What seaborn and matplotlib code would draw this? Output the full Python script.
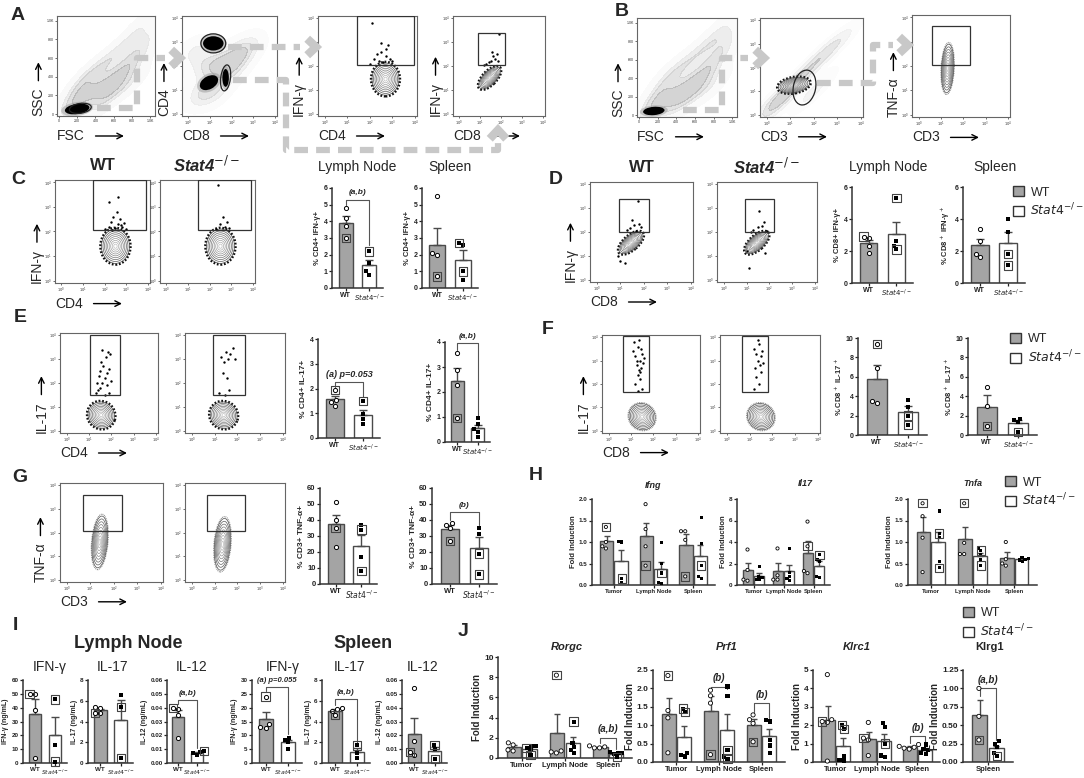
import warnings
warnings.filterwarnings('ignore')
import numpy as np
import pandas as pd
import matplotlib
matplotlib.use('Agg')
import matplotlib.pyplot as plt
import seaborn as sns
from matplotlib.patches import Ellipse, Rectangle, Patch, FancyArrowPatch
from matplotlib.lines import Line2D

# ---------------- DATA: bar charts (individual animals) ----------------
c_ln_wt = [4.8, 4.2, 3.7, 3.0]; c_ln_wt_box = [3]
c_ln_ko = [2.2, 1.5, 1.0, 0.8]; c_ln_ko_box = [0]
c_sp_wt = [5.5, 2.1, 2.0, 0.7]; c_sp_wt_box = [3]
c_sp_ko = [2.7, 2.6, 1.0, 0.5]; c_sp_ko_box = [0, 2]

d_ln_wt = [2.9, 2.8, 2.3, 1.9]; d_ln_wt_box = [0]
d_ln_ko = [5.3, 2.6, 2.3, 2.1]; d_ln_ko_box = [0, 3]
d_sp_wt = [3.4, 2.6, 1.8, 1.6]; d_sp_wt_box = []
d_sp_ko = [4.0, 3.2, 1.8, 1.1]; d_sp_ko_box = [2, 3]

e_ln_wt = [1.95, 1.55, 1.45, 1.3]; e_ln_wt_box = [0]
e_ln_ko = [1.5, 0.95, 0.75, 0.55]; e_ln_ko_box = [0]
e_sp_wt = [3.55, 2.9, 2.3, 0.95]; e_sp_wt_box = [3]
e_sp_ko = [0.95, 0.7, 0.5, 0.4, 0.2]; e_sp_ko_box = []

f_ln_wt = [9.4, 6.9, 3.5, 3.3]; f_ln_wt_box = [0]
f_ln_ko = [3.6, 2.9, 2.0, 1.0]; f_ln_ko_box = [2, 3]
f_sp_wt = [4.9, 3.0, 0.9]; f_sp_wt_box = [2]
f_sp_ko = [1.7, 1.5, 1.3, 0.3]; f_sp_ko_box = [3]

g_ln_wt = [51, 40, 35, 23]; g_ln_wt_box = [2]
g_ln_ko = [37, 34, 17, 8]; g_ln_ko_box = [1, 3]
g_sp_wt = [38, 37, 35, 27]; g_sp_wt_box = [3]
g_sp_ko = [35, 31, 19, 6]; g_sp_ko_box = [2, 3]

tissues = ['Tumor', 'Lymph Node', 'Spleen']
ifng_wt = [[1.35, 1.0, 0.9, 0.85], [1.88, 1.3, 0.9, 0.45], [1.25, 1.25, 1.05, 0.2]]
ifng_wt_box = [[0], [3], [3]]
ifng_ko = [[1.02, 1.0, 0.15, 0.05], [0.98, 0.5, 0.28, 0.05, 0.03], [1.57, 0.97, 0.45, 0.2, 0.15]]
ifng_ko_box = [[2], [2], [2]]
il17_wt = [[3.3, 1.4, 0.5, 0.4], [3.4, 0.9, 0.5, 0.5], [5.9, 3.6, 1.3, 1.1]]
il17_wt_box = [[], [], [1]]
il17_ko = [[1.75, 0.8, 0.7, 0.5, 0.5], [3.4, 1.2, 0.8, 0.6, 0.4], [2.8, 2.4, 2.2, 0.8, 0.7]]
il17_ko_box = [[], [], [0]]
tnfa_wt = [[1.9, 1.6, 1.1, 0.3], [1.9, 0.98, 0.72, 0.72], [1.0, 0.6, 0.5, 0.45]]
tnfa_wt_box = [[0], [0], []]
tnfa_ko = [[1.72, 1.2, 1.1, 0.55, 0.4], [0.85, 0.8, 0.7, 0.6, 0.45], [0.64, 0.62, 0.6, 0.58, 0.55]]
tnfa_ko_box = [[1, 4], [1, 4], []]

i_ln_ifn_wt = [50, 50, 38, 3.5]; i_ln_ifn_wt_box = [0]
i_ln_ifn_ko = [46, 13, 1]; i_ln_ifn_ko_box = [0, 2]
i_ln_il17_wt = [5.4, 5.3, 4.8, 4.8]; i_ln_il17_wt_box = [2]
i_ln_il17_ko = [6.6, 5.4, 0.5]; i_ln_il17_ko_box = [1, 2]
i_ln_il12_wt = [0.040, 0.039, 0.035, 0.018]; i_ln_il12_wt_box = [0]
i_ln_il12_ko = [0.0085, 0.008, 0.007, 0.006]; i_ln_il12_ko_box = [0]
i_sp_ifn_wt = [24, 14, 13, 12.5]; i_sp_ifn_wt_box = [0]
i_sp_ifn_ko = [9.2, 8.4, 7.5, 5.0]; i_sp_ifn_ko_box = []
i_sp_il17_wt = [5.3, 5.2, 5.0, 4.6]; i_sp_il17_wt_box = [3]
i_sp_il17_ko = [1.7, 1.0, 0.5]; i_sp_il17_ko_box = [0]
i_sp_il12_wt = [0.054, 0.016, 0.008, 0.006]; i_sp_il12_wt_box = [2]
i_sp_il12_ko = [0.013, 0.010, 0.003]; i_sp_il12_ko_box = [0, 2]

rorgc_wt = [[1.5, 1.3, 0.8, 0.7], [8.2, 0.7, 0.6, 0.5], [1.2, 1.1, 1.0, 1.0]]
rorgc_wt_box = [[], [0], []]
rorgc_ko = [[1.2, 1.2, 1.0, 0.8, 0.3], [3.6, 1.5, 1.1, 0.8, 0.5], [0.6, 0.5, 0.5, 0.4, 0.1]]
rorgc_ko_box = [[2, 4], [0], [4]]
prf1_wt = [[2.35, 1.4, 1.2, 0.25], [1.95, 1.8, 1.6, 0.2], [1.28, 1.15, 1.05, 0.55]]
prf1_wt_box = [[0], [3], [3]]
prf1_ko = [[1.45, 1.35, 0.25, 0.2, 0.15], [2.05, 1.8, 0.32, 0.15, 0.08], [1.15, 1.1, 0.6, 0.45, 0.25]]
prf1_ko_box = [[0, 1], [2, 4], []]
klrc1_wt = [[4.75, 2.3, 2.2, 2.15, 0.05], [2.15, 1.3, 1.2, 0.35], [0.95, 0.85, 0.8, 0.75, 0.7]]
klrc1_wt_box = [[2], [1], []]
klrc1_ko = [[2.0, 1.8, 0.3, 0.1, 0.05], [2.1, 1.9, 1.0, 0.35, 0.25], [0.95, 0.7, 0.65, 0.5, 0.45]]
klrc1_ko_box = [[0, 1], [2], []]
klrg1_wt = [[1.0, 0.62, 0.3]]; klrg1_wt_box = [[2]]
klrg1_ko = [[0.28, 0.25, 0.2, 0.12, 0.08]]; klrg1_ko_box = [[4]]

# ---------------- DATA: flow cytometry sketches (log decades) ----------------
a1_blobs = [(200, 55, 270, 110, 8)]
a1_bg_x = [120, 250, 400, 550, 700, 850, 950, 300, 500, 700, 900, 200, 600, 800, 450]
a1_bg_y = [80, 150, 250, 350, 450, 600, 800, 400, 550, 700, 950, 250, 250, 350, 120]
a1_ells = [(235, 62, 240, 105, 8)]
a2_blobs = [(1.15, 2.95, 0.95, 0.6, 0), (0.95, 1.3, 0.9, 0.55, 25), (1.72, 1.5, 0.3, 0.75, 0)]
a2_bg_x = [0.3, 0.8, 1.5, 2.2, 2.8, 0.5, 1.2, 2.0]
a2_bg_y = [2.6, 2.0, 2.1, 2.4, 2.8, 0.8, 0.9, 1.8]
a2_ells = [(1.15, 2.95, 1.15, 0.8, 0), (1.72, 1.5, 0.45, 1.1, -8)]
a3_pops = [(2.7, 1.45, 1.2, 1.35, 0, 'k')]
a3_rects = [(1.45, 2.05, 3.95, 4.1)]
a3_dx = [2.0, 2.2, 2.4, 2.5, 2.7, 2.8, 2.9, 2.3, 2.6, 3.0, 2.1, 2.7, 2.5]
a3_dy = [2.1, 2.3, 2.2, 2.6, 2.4, 2.9, 2.3, 2.5, 2.15, 2.2, 3.8, 2.7, 2.95]
a4_pops = [(1.45, 1.5, 1.25, 0.6, 40, 'k')]
a4_rects = [(0.9, 2.05, 2.2, 3.4)]
a4_dx = [1.3, 1.5, 1.6, 1.7, 1.8, 1.4, 1.9, 1.55, 1.85, 1.2]
a4_dy = [2.1, 2.2, 2.4, 2.3, 2.5, 2.15, 3.35, 2.6, 2.2, 2.05]
b1_blobs = [(160, 45, 230, 90, 5)]
b1_bg_x = [100, 250, 400, 550, 700, 850, 950, 300, 500, 700, 900, 200, 600, 800, 400]
b1_bg_y = [60, 130, 230, 330, 450, 620, 820, 420, 560, 720, 950, 220, 240, 330, 100]
b2_pops = [(1.15, 1.25, 1.35, 0.65, 10, 'k')]
b2_ells = [(1.6, 1.15, 0.95, 1.5, -12)]
b2_bg_x = [0.3, 0.8, 1.5, 2.3, 3.0, 0.5, 2.0]
b2_bg_y = [0.6, 0.9, 1.6, 2.5, 3.0, 0.4, 1.0]
b3_pops = [(1.3, 1.9, 0.55, 2.0, -3, 'g')]
b3_rects = [(0.6, 2.05, 2.3, 3.65)]
c_pops = [(2.5, 1.4, 1.3, 1.4, 0, 'k')]
c_rects = [(1.45, 2.05, 3.9, 4.1)]
c_wt_dx = [2.0, 2.2, 2.3, 2.5, 2.6, 2.7, 2.8, 2.9, 3.0, 2.4, 2.55, 2.75, 2.2, 2.6, 2.35]
c_wt_dy = [2.1, 2.2, 2.4, 2.15, 2.3, 2.5, 2.2, 2.35, 2.1, 2.6, 2.8, 2.25, 3.2, 3.4, 2.05]
c_ko_dx = [2.3, 2.5, 2.7, 2.9, 2.6, 2.4, 2.8]
c_ko_dy = [2.1, 2.3, 2.2, 2.15, 2.6, 3.9, 2.4]
d_pops = [(1.45, 1.55, 1.25, 0.6, 40, 'k')]
d_rects = [(0.95, 2.0, 2.2, 3.4)]
d_wt_dx = [1.75, 1.5, 1.6, 1.9, 1.4, 1.65, 1.3, 1.8, 0.9, 1.0, 1.2]
d_wt_dy = [3.3, 2.5, 2.3, 2.2, 2.15, 2.05, 2.1, 2.35, 1.0, 0.8, 0.7]
d_ko_dx = [1.55, 1.3, 1.5, 1.7, 1.9, 1.2, 1.75, 1.0, 1.8, 1.1]
d_ko_dy = [2.9, 2.1, 2.2, 2.25, 2.05, 2.0, 2.4, 1.2, 1.1, 0.5]
e_wt_pops = [(1.55, 0.65, 1.1, 1.2, 70, 'k')]
e_wt_rects = [(1.05, 1.5, 2.4, 4.0)]
e_wt_dx = [1.3, 1.5, 1.6, 1.7, 1.8, 1.9, 1.4, 1.55, 1.75, 1.85, 1.95, 1.45, 1.65, 1.7, 1.8, 1.6, 1.5, 1.9, 2.0, 1.35]
e_wt_dy = [1.6, 1.8, 2.0, 2.2, 2.4, 2.6, 1.7, 2.9, 3.1, 3.3, 3.2, 2.3, 2.7, 1.5, 1.9, 3.4, 2.5, 1.6, 2.1, 2.0]
e_ko_pops = [(1.4, 0.65, 1.1, 1.2, 70, 'k')]
e_ko_rects = [(0.95, 1.5, 2.35, 4.0)]
e_ko_dx = [1.3, 1.5, 1.7, 1.4, 1.8, 1.6, 1.35, 1.9, 1.55, 1.65, 1.2, 1.45]
e_ko_dy = [3.1, 3.3, 3.2, 2.9, 3.45, 3.0, 2.4, 3.0, 2.2, 1.7, 1.6, 1.5]
f_pops = [(1.5, 0.6, 1.1, 1.2, 60, 'g')]
f_rects = [(0.65, 1.65, 1.8, 4.05)]
f_wt_dx = [1.1, 1.2, 1.3, 1.4, 1.5, 1.25, 1.35, 1.45, 1.55, 1.6, 1.3, 1.4, 1.2, 1.5, 1.15, 1.35, 1.45, 1.3, 1.4, 1.25]
f_wt_dy = [3.4, 3.2, 3.6, 3.0, 3.3, 2.8, 2.6, 3.5, 2.9, 3.1, 2.4, 2.2, 2.0, 1.8, 3.8, 3.9, 2.7, 1.7, 2.5, 3.0]
f_ko_dx = [1.2, 1.3, 1.4, 1.5, 1.35, 1.25, 1.45, 1.55, 1.3, 1.4, 1.2, 1.5, 1.35, 1.6]
f_ko_dy = [3.5, 3.3, 3.7, 3.2, 3.0, 2.7, 2.8, 3.4, 2.3, 2.0, 1.8, 2.5, 3.9, 2.9]
g_wt_pops = [(1.4, 1.6, 0.65, 2.2, -5, 'g')]
g_ko_pops = [(1.35, 1.5, 0.7, 2.2, -5, 'g')]
g_rects = [(0.67, 2.05, 2.35, 3.6)]

# ---------------- STYLE ----------------
sns.set_theme(style='ticks')
plt.rcParams['font.family'] = ['Liberation Sans', 'DejaVu Sans']
plt.rcParams['mathtext.fontset'] = 'dejavusans'
GREY = '#a4a4a4'
EDGE = '#4a4a4a'
KO_LAB = r'$\mathit{Stat4}^{-/-}$'

W, H = 1084, 778
fig = plt.figure(figsize=(W / 100, H / 100), dpi=100)
pending = []
arrow_labels = []


def axpx(x0, y0, x1, y1):
    return fig.add_axes([x0 / W, 1 - y1 / H, (x1 - x0) / W, (y1 - y0) / H])


def ftxt(x, y, s, **kw):
    kw.setdefault('ha', 'center')
    kw.setdefault('va', 'center')
    fig.text(x / W, 1 - y / H, s, **kw)


def rings(ax, cx, cy, w, h, ang, style):
    outer = '#111111' if style == 'k' else '#8a8a8a'
    ax.add_patch(Ellipse((cx, cy), w * 1.07, h * 1.07, angle=ang, fill=False, ec=outer,
                         lw=1.8 if style == 'k' else 0.9, ls=(0, (0.7, 0.7)), zorder=3))
    for k, s in enumerate(np.linspace(1.0, 0.12, 9)):
        ax.add_patch(Ellipse((cx, cy), w * s, h * s, angle=ang, fill=False,
                             ec=str(0.3 + 0.45 * k / 8), lw=0.5, zorder=3))


def flow(box, xl=None, yl=None, linear=False, pops=(), blobs=(), dots=None,
         rects=(), ells=(), bg=None):
    ax = axpx(*box)
    if linear:
        lim = (-20, 1050)
        ticks = [0, 200, 400, 600, 800, 1000]
        labs = ['0', '200', '400', '600', '800', '1.0K']
        ylim = lim
    else:
        lim = (-0.3, 4.1)
        ylim = (-0.1, 4.1)
        ticks = [0, 1, 2, 3, 4]
        labs = [f'$10^{k}$' for k in ticks]
    if bg is not None:
        sns.kdeplot(x=bg[0], y=bg[1], fill=True, cmap='Greys', levels=5, thresh=0.08,
                    alpha=0.2, bw_adjust=0.9, ax=ax)
    for (cx, cy, w, h, a) in blobs:
        ax.add_patch(Ellipse((cx, cy), w * 1.3, h * 1.35, angle=a, fc='0.6', ec='none', alpha=0.5))
        ax.add_patch(Ellipse((cx, cy), w, h, angle=a, fc='black', ec='none'))
    for (cx, cy, w, h, a, st) in pops:
        rings(ax, cx, cy, w, h, a, st)
    if dots is not None:
        sns.scatterplot(x=dots[0], y=dots[1], s=3, color='black', linewidth=0, ax=ax, zorder=4)
    for (x0, y0, x1, y1) in rects:
        ax.add_patch(Rectangle((x0, y0), x1 - x0, y1 - y0, fill=False, ec='#333333', lw=0.9, zorder=5))
    for (cx, cy, w, h, a) in ells:
        ax.add_patch(Ellipse((cx, cy), w, h, angle=a, fill=False, ec='#222222', lw=0.9, zorder=5))
    ax.set_xlim(lim)
    ax.set_ylim(ylim)
    ax.set_xticks(ticks)
    ax.set_yticks(ticks)
    ax.set_xticklabels(labs, fontsize=2.6)
    ax.set_yticklabels(labs, fontsize=2.6)
    ax.tick_params(length=1.5, width=0.5, pad=0.6, colors='#333333')
    for sp in ax.spines.values():
        sp.set_linewidth(0.8)
        sp.set_color('#666666')
    ax.set_xlabel('')
    ax.set_ylabel('')
    if xl:
        t = ax.text(0.0, -0.2, xl, transform=ax.transAxes, ha='left', va='center', fontsize=10)
        arrow_labels.append((t, 'x'))
    if yl:
        t = ax.text(-0.19, 0.0, yl, transform=ax.transAxes, ha='center', va='bottom', fontsize=10,
                    rotation=90)
        arrow_labels.append((t, 'y'))
    return ax


def style_bar_axes(ax, ymax, step, fmt, ylabel, yfs, tfs):
    ax.set_ylim(0, ymax)
    yt = np.round(np.arange(0, ymax + step / 2, step), 6)
    ax.set_yticks(yt)
    ax.set_yticklabels([fmt.format(v) for v in yt], fontsize=tfs, fontweight='bold')
    ax.set_ylabel(ylabel, fontsize=yfs, fontweight='bold', labelpad=1.5)
    ax.set_xlabel('')
    sns.despine(ax=ax)
    for sp in ['left', 'bottom']:
        ax.spines[sp].set_linewidth(1.1)
        ax.spines[sp].set_color('#333333')
    ax.tick_params(length=2.2, width=0.9, pad=1, colors='#222222')


def bracket(ax, x0, x1, y, y0, y1, text, fs=6):
    ax.plot([x0, x0, x1, x1], [y0, y, y, y1], color='#555555', lw=0.8, clip_on=False)
    ax.text((x0 + x1) / 2, y + ax.get_ylim()[1] * 0.035, text, ha='center', va='bottom',
            fontsize=fs, fontstyle='italic', fontweight='bold', clip_on=False)


def pair(box, wt, ko, wtb, kob, ymax, step, ylabel, fmt='{:g}', sig=None,
         yfs=5.5, tfs=5, sigfs=6):
    ax = axpx(*box)
    df = pd.DataFrame({'g': ['WT'] * len(wt) + ['KO'] * len(ko), 'v': list(wt) + list(ko)})
    sns.barplot(data=df, x='g', y='v', hue='g', order=['WT', 'KO'], hue_order=['WT', 'KO'],
                palette={'WT': GREY, 'KO': 'white'}, errorbar=None, edgecolor=EDGE,
                linewidth=1.0, width=0.62, legend=False, ax=ax)
    for i, vals in enumerate([wt, ko]):
        m = np.mean(vals)
        s = np.std(vals, ddof=1) / np.sqrt(len(vals))
        ax.errorbar([i], [m], yerr=[[0], [s]], fmt='none', ecolor=EDGE, elinewidth=1,
                    capsize=3, capthick=1)
    for name, bx, mk, fc, lw in [('WT', wtb, 'o', 'white', 0.7), ('KO', kob, 's', 'black', 0)]:
        n0 = len(ax.collections)
        sns.swarmplot(data=df[df.g == name], x='g', y='v', order=['WT', 'KO'], marker=mk,
                      color=fc, edgecolor='black', linewidth=lw, size=3, ax=ax)
        for col in ax.collections[n0:]:
            if len(col.get_offsets()) == 0:
                continue
            col.set_clip_on(False)
            pending.append((ax, col, bx))
    ax.set_xlim(-0.6, 1.6)
    style_bar_axes(ax, ymax, step, fmt, ylabel, yfs, tfs)
    ax.set_xticks([0, 1])
    ax.set_xticklabels(['WT', KO_LAB], fontsize=tfs)
    ax.get_xticklabels()[0].set_fontweight('bold')
    if sig:
        t, y, y0, y1 = sig
        bracket(ax, 0, 1, y, y0, y1, t, sigfs)
    return ax


def group(box, cats, wts, kos, wtbs, kobs, ymax, step, ylabel, fmt='{:g}', sigs=(),
          yfs=5.5, tfs=5, xfs=5, size=2.6, sigfs=6):
    ax = axpx(*box)
    rows = []
    for c, vals in zip(cats, wts):
        rows += [(c, 'WT', v) for v in vals]
    for c, vals in zip(cats, kos):
        rows += [(c, 'KO', v) for v in vals]
    df = pd.DataFrame(rows, columns=['t', 'g', 'v'])
    sns.barplot(data=df, x='t', y='v', hue='g', order=cats, hue_order=['WT', 'KO'],
                palette={'WT': GREY, 'KO': 'white'}, errorbar=None, edgecolor=EDGE,
                linewidth=1.0, width=0.72, gap=0.08, legend=False, ax=ax)
    patches = sorted([p for p in ax.patches if p.get_width() > 0], key=lambda p: p.get_x())
    centers = [p.get_x() + p.get_width() / 2 for p in patches]
    for j in range(len(cats)):
        for k, lists in enumerate([wts, kos]):
            vals = lists[j]
            m = np.mean(vals)
            s = np.std(vals, ddof=1) / np.sqrt(len(vals))
            ax.errorbar([centers[2 * j + k]], [m], yerr=[[0], [s]], fmt='none', ecolor=EDGE,
                        elinewidth=1, capsize=2.5, capthick=1)
    for name, bxs, mk, lw in [('WT', wtbs, 'o', 0.6), ('KO', kobs, 's', 0)]:
        n0 = len(ax.collections)
        sns.swarmplot(data=df[df.g == name], x='t', y='v', hue='g', order=cats,
                      hue_order=['WT', 'KO'], dodge=True,
                      palette={'WT': 'white', 'KO': 'black'}, marker=mk,
                      edgecolor='black', linewidth=lw, size=size, legend=False, ax=ax)
        for col in ax.collections[n0:]:
            off = col.get_offsets()
            if len(off) == 0:
                continue
            col.set_clip_on(False)
            j = int(np.clip(np.round(np.mean(off[:, 0])), 0, len(cats) - 1))
            pending.append((ax, col, bxs[j]))
    ax.set_xlim(-0.55, len(cats) - 0.45)
    style_bar_axes(ax, ymax, step, fmt, ylabel, yfs, tfs)
    ax.set_xticks(range(len(cats)))
    ax.set_xticklabels(cats, fontsize=xfs, fontweight='bold')
    for (j, t, y, y0, y1) in sigs:
        bracket(ax, centers[2 * j], centers[2 * j + 1], y, y0, y1, t, sigfs)
    return ax


def legend_at(x, y, fs=9):
    h = [Patch(facecolor=GREY, edgecolor='#333333', lw=1),
         Patch(facecolor='white', edgecolor='#333333', lw=1)]
    fig.legend(h, ['WT', KO_LAB], loc='upper left', bbox_to_anchor=(x / W, 1 - y / H),
               frameon=False, fontsize=fs, handlelength=0.9, handleheight=0.9,
               handletextpad=0.5, labelspacing=0.25, borderaxespad=0, borderpad=0)


def dpath(pts, lw=4.5):
    xs = [p[0] / W for p in pts]
    ys = [1 - p[1] / H for p in pts]
    fig.add_artist(Line2D(xs, ys, color='#c8c8c8', lw=lw, dashes=(2.2, 1.3),
                          dash_capstyle='butt', transform=fig.transFigure, zorder=10))


def chevron(tip, d='r', s=11):
    x, y = tip
    if d == 'r':
        pts = [(x - s * 0.8, y - s * 0.75), (x, y), (x - s * 0.8, y + s * 0.75)]
    else:
        pts = [(x - s * 0.75, y + s * 0.8), (x, y), (x + s * 0.75, y + s * 0.8)]
    fig.add_artist(Line2D([p[0] / W for p in pts], [1 - p[1] / H for p in pts],
                          color='#c8c8c8', lw=6, solid_joinstyle='miter',
                          solid_capstyle='butt', transform=fig.transFigure, zorder=10))


# ---------------- Row A / B : gating ----------------
flow((57, 16, 155, 116), 'FSC', 'SSC', linear=True, blobs=a1_blobs, bg=(a1_bg_x, a1_bg_y), ells=a1_ells)
flow((182, 16, 277, 116), 'CD8', 'CD4', blobs=a2_blobs, bg=(a2_bg_x, a2_bg_y), ells=a2_ells)
flow((318, 16, 417, 116), 'CD4', 'IFN-γ', pops=a3_pops, rects=a3_rects, dots=(a3_dx, a3_dy))
flow((453, 16, 545, 116), 'CD8', 'IFN-γ', pops=a4_pops, rects=a4_rects, dots=(a4_dx, a4_dy))
flow((637, 18, 737, 117), 'FSC', 'SSC', linear=True, blobs=b1_blobs, bg=(b1_bg_x, b1_bg_y))
flow((760, 18, 863, 117), 'CD3', None, pops=b2_pops, ells=b2_ells, bg=(b2_bg_x, b2_bg_y))
flow((912, 15, 1010, 117), 'CD3', 'TNF-α', pops=b3_pops, rects=b3_rects)

dpath([(97, 108), (137, 108), (137, 58), (165, 58)]); chevron((180, 58))
dpath([(228, 47), (300, 47)]); chevron((316, 47))
dpath([(233, 80), (286, 80), (286, 150), (498, 150), (498, 140)]); chevron((498, 130), 'u')
dpath([(683, 110), (722, 110), (722, 58), (748, 58)]); chevron((764, 58))
dpath([(817, 83), (873, 83), (873, 45), (893, 45)]); chevron((908, 45))

# ---------------- Row C / D ----------------
flow((55, 180, 150, 283), 'CD4', 'IFN-γ', pops=c_pops, rects=c_rects, dots=(c_wt_dx, c_wt_dy))
flow((160, 180, 255, 283), pops=c_pops, rects=c_rects, dots=(c_ko_dx, c_ko_dy))
pair((332, 188, 383, 288), c_ln_wt, c_ln_ko, c_ln_wt_box, c_ln_ko_box, 6, 1, '% CD4+ IFN-γ+',
     sig=('(a,b)', 5.3, 5.0, 2.6))
pair((422, 188, 478, 288), c_sp_wt, c_sp_ko, c_sp_wt_box, c_sp_ko_box, 6, 1, '% CD4+ IFN-γ+')
flow((590, 182, 693, 282), 'CD8', 'IFN-γ', pops=d_pops, rects=d_rects, dots=(d_wt_dx, d_wt_dy))
flow((717, 182, 817, 282), pops=d_pops, rects=d_rects, dots=(d_ko_dx, d_ko_dy))
pair((852, 187, 913, 283), d_ln_wt, d_ln_ko, d_ln_wt_box, d_ln_ko_box, 6, 2, '% CD8+ IFN-γ+')
pair((963, 187, 1025, 283), d_sp_wt, d_sp_ko, d_sp_wt_box, d_sp_ko_box, 6, 2, '% CD8$^+$ IFN-γ$^+$')
legend_at(1013, 186)

# ---------------- Row E / F ----------------
flow((60, 333, 158, 433), 'CD4', 'IL-17', pops=e_wt_pops, rects=e_wt_rects, dots=(e_wt_dx, e_wt_dy))
flow((185, 333, 285, 433), pops=e_ko_pops, rects=e_ko_rects, dots=(e_ko_dx, e_ko_dy))
pair((318, 339, 380, 438), e_ln_wt, e_ln_ko, e_ln_wt_box, e_ln_ko_box, 4, 1, '% CD4+ IL-17+',
     sig=('(a) p=0.053', 2.25, 2.05, 1.65), yfs=6, sigfs=6.5)
pair((445, 342, 490, 442), e_sp_wt, e_sp_ko, e_sp_wt_box, e_sp_ko_box, 4, 1, '% CD4+ IL-17+',
     sig=('(a,b)', 3.95, 3.7, 1.05), yfs=6)
flow((602, 335, 700, 433), 'CD8', 'IL-17', pops=f_pops, rects=f_rects, dots=(f_wt_dx, f_wt_dy))
flow((720, 335, 820, 433), pops=f_pops, rects=f_rects, dots=(f_ko_dx, f_ko_dy))
pair((858, 338, 927, 435), f_ln_wt, f_ln_ko, f_ln_wt_box, f_ln_ko_box, 10, 2, '% CD8$^+$ IL-17$^+$')
pair((968, 338, 1037, 435), f_sp_wt, f_sp_ko, f_sp_wt_box, f_sp_ko_box, 10, 2, '% CD8$^+$ IL-17$^+$')
legend_at(1010, 333)

# ---------------- Row G / H ----------------
flow((60, 483, 163, 582), 'CD3', 'TNF-α', pops=g_wt_pops, rects=g_rects)
flow((185, 483, 285, 582), pops=g_ko_pops, rects=g_rects)
pair((320, 488, 377, 584), g_ln_wt, g_ln_ko, g_ln_wt_box, g_ln_ko_box, 60, 10, '% CD3+ TNF-α+',
     yfs=6, tfs=5.5)
pair((432, 488, 497, 584), g_sp_wt, g_sp_ko, g_sp_wt_box, g_sp_ko_box, 60, 10, '% CD3+ TNF-α+',
     sig=('(b)', 45, 40, 37), yfs=6, tfs=5.5)
group((592, 499, 715, 585), tissues, ifng_wt, ifng_ko, ifng_wt_box, ifng_ko_box, 2.0, 0.5,
      'Fold Induction', '{:.1f}', tfs=4.5, xfs=4.2, size=2.3)
group((737, 499, 830, 585), tissues, il17_wt, il17_ko, il17_wt_box, il17_ko_box, 8, 2,
      'Fold Induction', '{:.0f}', tfs=4.5, xfs=4.2, size=2.3)
group((908, 499, 1037, 585), tissues, tnfa_wt, tnfa_ko, tnfa_wt_box, tnfa_ko_box, 2.0, 0.5,
      'Fold Induction', '{:.1f}', tfs=4.5, xfs=4.2, size=2.3)
legend_at(1005, 476)

# ---------------- Row I ----------------
pair((23, 680, 67, 763), i_ln_ifn_wt, i_ln_ifn_ko, i_ln_ifn_wt_box, i_ln_ifn_ko_box, 60, 10,
     'IFN-γ (ng/mL)', yfs=5, tfs=4.5)
pair((88, 680, 133, 763), i_ln_il17_wt, i_ln_il17_ko, i_ln_il17_wt_box, i_ln_il17_ko_box, 8, 2,
     'IL-17 (ng/mL)', yfs=5, tfs=4.5)
pair((167, 680, 208, 763), i_ln_il12_wt, i_ln_il12_ko, i_ln_il12_wt_box, i_ln_il12_ko_box, 0.06, 0.01,
     'IL-12 (ng/mL)', fmt='{:.2f}', sig=('(a,b)', 0.0455, 0.043, 0.011), yfs=5, tfs=4.5)
pair((252, 680, 302, 763), i_sp_ifn_wt, i_sp_ifn_ko, i_sp_ifn_wt_box, i_sp_ifn_ko_box, 30, 5,
     'IFN-γ (ng/mL)', sig=('(a) p=0.055', 27.6, 26, 10.5), yfs=5, tfs=4.5, sigfs=5.5)
pair((322, 680, 370, 763), i_sp_il17_wt, i_sp_il17_ko, i_sp_il17_wt_box, i_sp_il17_ko_box, 8, 2,
     'IL-17 (ng/mL)', sig=('(a,b)', 6.2, 5.6, 2.0), yfs=5, tfs=4.5)
pair((402, 680, 447, 763), i_sp_il12_wt, i_sp_il12_ko, i_sp_il12_wt_box, i_sp_il12_ko_box, 0.06, 0.01,
     'IL-12 (ng/mL)', fmt='{:.2f}', yfs=5, tfs=4.5)

# ---------------- Row J ----------------
group((498, 657, 632, 758), tissues, rorgc_wt, rorgc_ko, rorgc_wt_box, rorgc_ko_box, 10, 2,
      'Fold Induction', '{:.0f}', sigs=[(2, '(a,b)', 2.0, 1.5, 0.9)], yfs=7, tfs=6, xfs=5.5,
      size=3, sigfs=7)
group((653, 670, 785, 762), tissues, prf1_wt, prf1_ko, prf1_wt_box, prf1_ko_box, 2.5, 0.5,
      'Fold Induction', '{:.1f}', sigs=[(1, '(b)', 2.05, 1.98, 1.98), (2, '(b)', 1.6, 1.35, 1.2)],
      yfs=7, tfs=6, xfs=5.5, size=3, sigfs=7)
group((813, 670, 940, 762), tissues, klrc1_wt, klrc1_ko, klrc1_wt_box, klrc1_ko_box, 5, 1,
      'Fold Induction', '{:.0f}', sigs=[(2, '(b)', 1.4, 1.05, 1.0)], yfs=7, tfs=6, xfs=5.5,
      size=3, sigfs=7)
group((963, 670, 1013, 762), ['Spleen'], klrg1_wt, klrg1_ko, klrg1_wt_box, klrg1_ko_box, 1.25, 0.25,
      'Fold Induction', '{:.2f}', sigs=[(0, '(a,b)', 1.0, 0.9, 0.3)], yfs=7, tfs=6, xfs=5.5,
      size=3, sigfs=7)
legend_at(963, 607)

# ---------------- texts ----------------
for lab, (x, y) in {'A': (18, 15), 'B': (622, 12), 'C': (18, 180), 'D': (556, 180),
                    'E': (20, 318), 'F': (548, 330), 'G': (20, 477), 'H': (536, 475),
                    'I': (15, 625), 'J': (463, 632)}.items():
    ftxt(x, y, lab, fontsize=14, fontweight='bold')
ftxt(103, 165, 'WT', fontsize=12, fontweight='bold')
ftxt(207, 165, 'Stat4$^{-/-}$', fontsize=12, fontweight='bold', fontstyle='italic')
ftxt(357, 167, 'Lymph Node', fontsize=10)
ftxt(450, 167, 'Spleen', fontsize=10)
ftxt(642, 167, 'WT', fontsize=12, fontweight='bold')
ftxt(767, 167, 'Stat4$^{-/-}$', fontsize=12, fontweight='bold', fontstyle='italic')
ftxt(888, 167, 'Lymph Node', fontsize=10)
ftxt(995, 167, 'Spleen', fontsize=10)
ftxt(653, 485, 'Ifng', fontsize=6.5, fontweight='bold', fontstyle='italic')
ftxt(805, 483, 'Il17', fontsize=6.5, fontweight='bold', fontstyle='italic')
ftxt(973, 483, 'Tnfa', fontsize=6.5, fontweight='bold', fontstyle='italic')
ftxt(128, 643, 'Lymph Node', fontsize=13, fontweight='bold')
ftxt(363, 643, 'Spleen', fontsize=13, fontweight='bold')
for s, x in [('IFN-γ', 50), ('IL-17', 113), ('IL-12', 192), ('IFN-γ', 283), ('IL-17', 350), ('IL-12', 423)]:
    ftxt(x, 667, s, fontsize=10)
ftxt(567, 647, 'Rorgc', fontsize=8, fontweight='bold', fontstyle='italic')
ftxt(727, 647, 'Prf1', fontsize=8, fontweight='bold', fontstyle='italic')
ftxt(857, 647, 'Klrc1', fontsize=8, fontweight='bold', fontstyle='italic')
ftxt(990, 647, 'Klrg1', fontsize=8, fontweight='bold')

# first draw: swarm positions and label extents become known
fig.canvas.draw()
renderer = fig.canvas.get_renderer()
for ax, col, idxs in pending:
    off = col.get_offsets()
    for i in idxs:
        if i < len(off):
            ax.scatter([off[i, 0]], [off[i, 1]], s=36, marker='s', facecolors='none',
                       edgecolors='#444444', linewidths=0.8, clip_on=False, zorder=6)

# axis arrows of the cytometry plots, placed right after each label
for t, kind in arrow_labels:
    bb = t.get_window_extent(renderer)
    if kind == 'x':
        y = (bb.y0 + bb.y1) / 2
        p0, p1 = (bb.x1 + 8, y), (bb.x1 + 42, y)
    else:
        x = (bb.x0 + bb.x1) / 2
        p0, p1 = (x, bb.y1 + 4), (x, bb.y1 + 28)
    fig.add_artist(FancyArrowPatch(p0, p1, transform=None, arrowstyle='->',
                                   mutation_scale=10, lw=1, color='black'))

fig.savefig('out.png', dpi=100)
